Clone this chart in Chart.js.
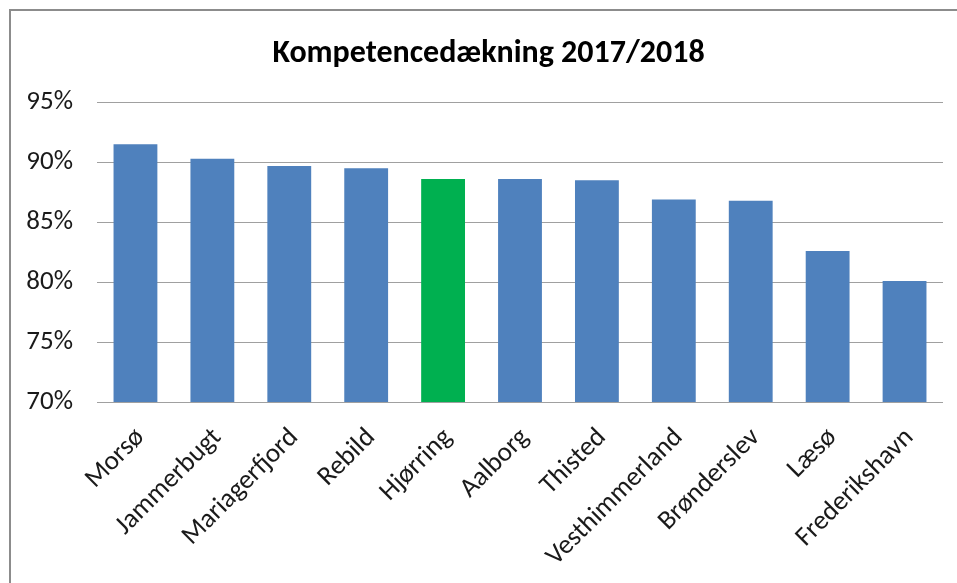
<!DOCTYPE html>
<html>
<head>
<meta charset="utf-8">
<script src="https://cdn.jsdelivr.net/npm/chart.js@4"></script>
<style>
  html, body { margin: 0; padding: 0; background: #fff; }
  #wrap { position: relative; width: 957px; height: 583px; overflow: hidden; }
  #frame { position: absolute; left: 9px; top: 9px; width: 960px; height: 590px;
           border-left: 2px solid #8c8c8c; border-top: 2px solid #8c8c8c; }
  canvas { position: absolute; left: 0; top: 0; }
</style>
</head>
<body>
<div id="wrap">
  <div id="frame"></div>
  <canvas id="chart" width="957" height="583"></canvas>
</div>
<script>
// kommuner og kompetencedækning (%)
const kommuner = ['Morsø', 'Jammerbugt', 'Mariagerfjord', 'Rebild', 'Hjørring', 'Aalborg',
                  'Thisted', 'Vesthimmerland', 'Brønderslev', 'Læsø', 'Frederikshavn'];
const daekning = [91.5, 90.3, 89.7, 89.5, 88.6, 88.6, 88.5, 86.9, 86.8, 82.6, 80.1];
const fremhaevet = 'Hjørring';

const fontFamily = 'Carlito, Calibri, Lato, sans-serif';

const barColors = kommuner.map(k => k === fremhaevet ? '#00B050' : '#4F81BD');

// flytter titlen lidt mod højre (centreret over hele rammen, ikke kun plotområdet)
const titleShift = {
    id: 'titleShift',
    afterLayout(chart) {
        if (chart.titleBlock) chart.titleBlock.left = 34;
    }
};

const chart = new Chart(document.getElementById('chart').getContext('2d'), {
    type: 'bar',
    data: {
        labels: kommuner,
        datasets: [{
            data: daekning,
            backgroundColor: barColors,
            borderWidth: 0,
            barPercentage: 0.57,
            categoryPercentage: 1
        }]
    },
    plugins: [titleShift],
    options: {
        responsive: false,
        animation: false,
        layout: { padding: { left: 0, right: 14, top: 0, bottom: 0 } },
        plugins: {
            legend: { display: false },
            tooltip: { enabled: false },
            title: {
                display: true,
                text: 'Kompetencedækning 2017/2018',
                color: '#000',
                font: { family: fontFamily, size: 32, weight: 'bold' },
                padding: { top: 35, bottom: 29 }
            }
        },
        scales: {
            x: {
                grid: { display: false },
                border: { display: false },
                ticks: {
                    color: '#1a1a1a',
                    font: { family: fontFamily, size: 27 },
                    minRotation: 45,
                    maxRotation: 45,
                    padding: 12,
                    labelOffset: 5
                },
                afterFit: s => { s.height = 181; }
            },
            y: {
                min: 70,
                max: 95,
                border: { display: false },
                grid: { color: '#a0a0a0', lineWidth: 1, drawTicks: false },
                ticks: {
                    stepSize: 5,
                    color: '#1a1a1a',
                    font: { family: fontFamily, size: 27 },
                    padding: 24,
                    callback: v => v + '%'
                },
                afterFit: s => { s.width = 97; }
            }
        }
    }
});
</script>
</body>
</html>
